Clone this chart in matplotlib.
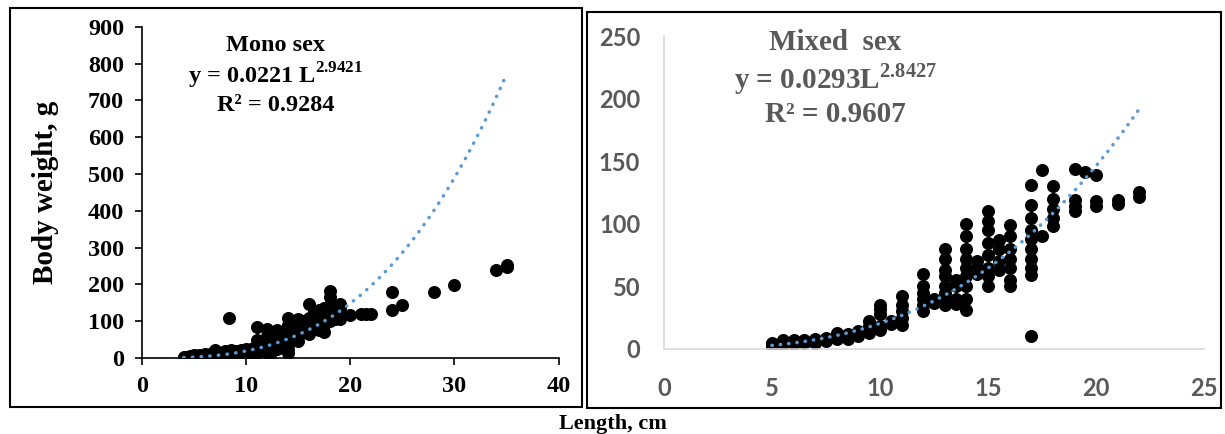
import numpy as np
import matplotlib
matplotlib.use('Agg')
import matplotlib.pyplot as plt
from matplotlib.patches import Rectangle

plt.rcParams['mathtext.fontset'] = 'custom'
plt.rcParams['mathtext.rm'] = 'Liberation Serif:bold'
plt.rcParams['mathtext.bf'] = 'Liberation Serif:bold'

# mono sex: length (cm) -> list of body weights (g)
mono_len = [4.0, 4.3, 4.6, 5.0, 5.5, 6.0, 6.5, 7.0, 7.5, 8.0, 8.3, 8.5, 9.0, 9.5, 10.0,
            10.5, 11.0, 11.5, 12.0, 12.3, 12.5, 13.0, 13.5, 14.0, 14.5, 15.0, 15.5,
            16.0, 16.5, 17.0, 17.5, 18.0, 18.5, 19.0, 20.0, 21.0, 21.5, 22.0, 24.0,
            25.0, 28.0, 30.0, 34.0, 35.0]
mono_wt = [[1, 3], [2, 4], [3, 5, 2], [3, 5, 7], [4, 6, 8], [5, 7, 10], [6, 9, 12],
           [8, 14, 22, 5], [10, 14, 4], [10, 15, 20, 5], [108], [12, 18, 22],
           [14, 18, 8], [16, 22, 12], [18, 25, 10], [20, 15, 25],
           [85, 50, 30, 20, 15], [25, 40, 20], [80, 60, 45, 35, 25], [3],
           [70, 50, 40, 30], [75, 60, 45, 35, 25], [60, 45, 40, 30],
           [108, 90, 70, 55, 40, 25, 15], [80, 65, 50], [105, 90, 75, 60, 45],
           [100, 85, 70], [148, 110, 95, 80, 65], [125, 110, 95, 80],
           [130, 115, 100, 85, 75], [135, 120, 100, 90, 70],
           [182, 165, 145, 130, 115, 100], [130, 115, 105], [148, 135, 120, 105],
           [117], [119], [120], [119], [180, 130], [145], [180], [198], [238],
           [248, 252]]

# mixed sex
mixed_len = [5.0, 5.5, 6.0, 6.5, 7.0, 7.5, 8.0, 8.5, 9.0, 9.5, 10.0, 10.5, 11.0,
             12.0, 12.5, 13.0, 13.5, 14.0, 14.5, 15.0, 15.5, 16.0, 17.0, 17.5,
             18.0, 19.0, 19.5, 20.0, 21.0, 22.0]
mixed_wt = [[2, 3, 4, 5], [3, 4, 6, 7], [4, 5, 6, 7], [5, 6, 7], [5, 6, 7, 8],
            [6, 7, 8, 9], [8, 10, 12, 13], [8, 9, 10, 12], [10, 12, 14],
            [13, 15, 18, 22], [15, 18, 28, 32, 35], [20, 22],
            [19, 25, 30, 35, 42], [30, 35, 40, 45, 50, 60], [37, 40],
            [35, 40, 45, 50, 58, 63, 72, 80], [36, 40, 50, 55],
            [31, 40, 50, 58, 65, 72, 80, 90, 100], [60, 65, 70],
            [50, 58, 65, 75, 85, 95, 102, 110], [63, 70, 80, 87],
            [50, 55, 65, 72, 80, 90, 99],
            [10, 59, 65, 72, 80, 88, 95, 105, 115, 131], [90, 143],
            [98, 105, 112, 120, 130], [110, 114, 119, 144], [141],
            [114, 118, 139], [116, 119], [121, 125]]

mono_a, mono_b = 0.0221, 2.9421
mixed_a, mixed_b = 0.0293, 2.8427


def flatten(lens, wts):
    xs, ys = [], []
    for l, ws in zip(lens, wts):
        for w in ws:
            xs.append(l)
            ys.append(w)
    return xs, ys


fig = plt.figure(figsize=(12.25, 4.34), dpi=100)

# panel frames
fig.patches.append(Rectangle((0.008, 0.062), 0.467, 0.919, transform=fig.transFigure,
                             fill=False, edgecolor='black', linewidth=1.5))
fig.patches.append(Rectangle((0.479, 0.060), 0.518, 0.912, transform=fig.transFigure,
                             fill=False, edgecolor='black', linewidth=1.5))

serif = 'Liberation Serif'
trend_color = '#5B9BD5'

# ---- left: mono sex
ax1 = fig.add_axes([0.116, 0.175, 0.340, 0.763])
x, y = flatten(mono_len, mono_wt)
ax1.scatter(x, y, s=70, color='black', zorder=2)
lx = np.linspace(4, 35, 200)
ax1.plot(lx, mono_a * lx ** mono_b, color=trend_color, lw=2.5,
         dashes=(0.1, 2.4), dash_capstyle='round', zorder=3)
ax1.set_xlim(0, 40)
ax1.set_ylim(0, 900)
ax1.set_xticks(range(0, 41, 10))
ax1.set_yticks(range(0, 901, 100))
for s in ['top', 'right']:
    ax1.spines[s].set_visible(False)
for s in ['left', 'bottom']:
    ax1.spines[s].set_linewidth(1.2)
ax1.tick_params(direction='out', length=5, width=1.2, pad=8, labelsize=17.5)
for lab in ax1.get_xticklabels() + ax1.get_yticklabels():
    lab.set_family(serif)
    lab.set_fontweight('bold')
ax1.set_ylabel('Body weight, g', family=serif, fontweight='bold', fontsize=21)
ax1.yaxis.set_label_coords(-0.2, 0.5)

fig.text(0.225, 0.896, 'Mono sex', family=serif, fontweight='bold', fontsize=17.5,
         ha='center', va='center')
fig.text(0.225, 0.826, r'y = 0.0221 L$^{2.9421}$', family=serif, fontweight='bold',
         fontsize=17.5, ha='center', va='center')
fig.text(0.225, 0.758, 'R² = 0.9284', family=serif, fontweight='bold', fontsize=17.5,
         ha='center', va='center')

# ---- right: mixed sex
ax2 = fig.add_axes([0.542, 0.196, 0.441, 0.721])
x, y = flatten(mixed_len, mixed_wt)
ax2.scatter(x, y, s=70, color='black', zorder=2)
rx = np.linspace(5, 22, 150)
ax2.plot(rx, mixed_a * rx ** mixed_b, color=trend_color, lw=2.5,
         dashes=(0.1, 2.3), dash_capstyle='round', zorder=3)
ax2.set_xlim(0, 25)
ax2.set_ylim(0, 250)
ax2.set_xticks(range(0, 26, 5))
ax2.set_yticks(range(0, 251, 50))
for s in ['top', 'right']:
    ax2.spines[s].set_visible(False)
for s in ['left', 'bottom']:
    ax2.spines[s].set_color('#D9D9D9')
    ax2.spines[s].set_linewidth(1.2)
ax2.tick_params(length=0, labelsize=17, labelcolor='#595959')
ax2.tick_params(axis='y', pad=17)
ax2.tick_params(axis='x', pad=20)
for lab in ax2.get_xticklabels() + ax2.get_yticklabels():
    lab.set_family('Lato')
    lab.set_fontweight('bold')

gray = '#595959'
fig.text(0.682, 0.903, 'Mixed  sex', family=serif, fontweight='bold', fontsize=21,
         color=gray, ha='center', va='center')
fig.text(0.682, 0.818, r'y = 0.0293L$^{2.8427}$', family=serif, fontweight='bold',
         fontsize=21, color=gray, ha='center', va='center')
fig.text(0.682, 0.736, 'R² = 0.9607', family=serif, fontweight='bold', fontsize=21,
         color=gray, ha='center', va='center')

fig.text(0.5, 0.023, 'Length, cm', family=serif, fontweight='bold', fontsize=16,
         ha='center', va='center')

fig.savefig('out.png', dpi=100)
